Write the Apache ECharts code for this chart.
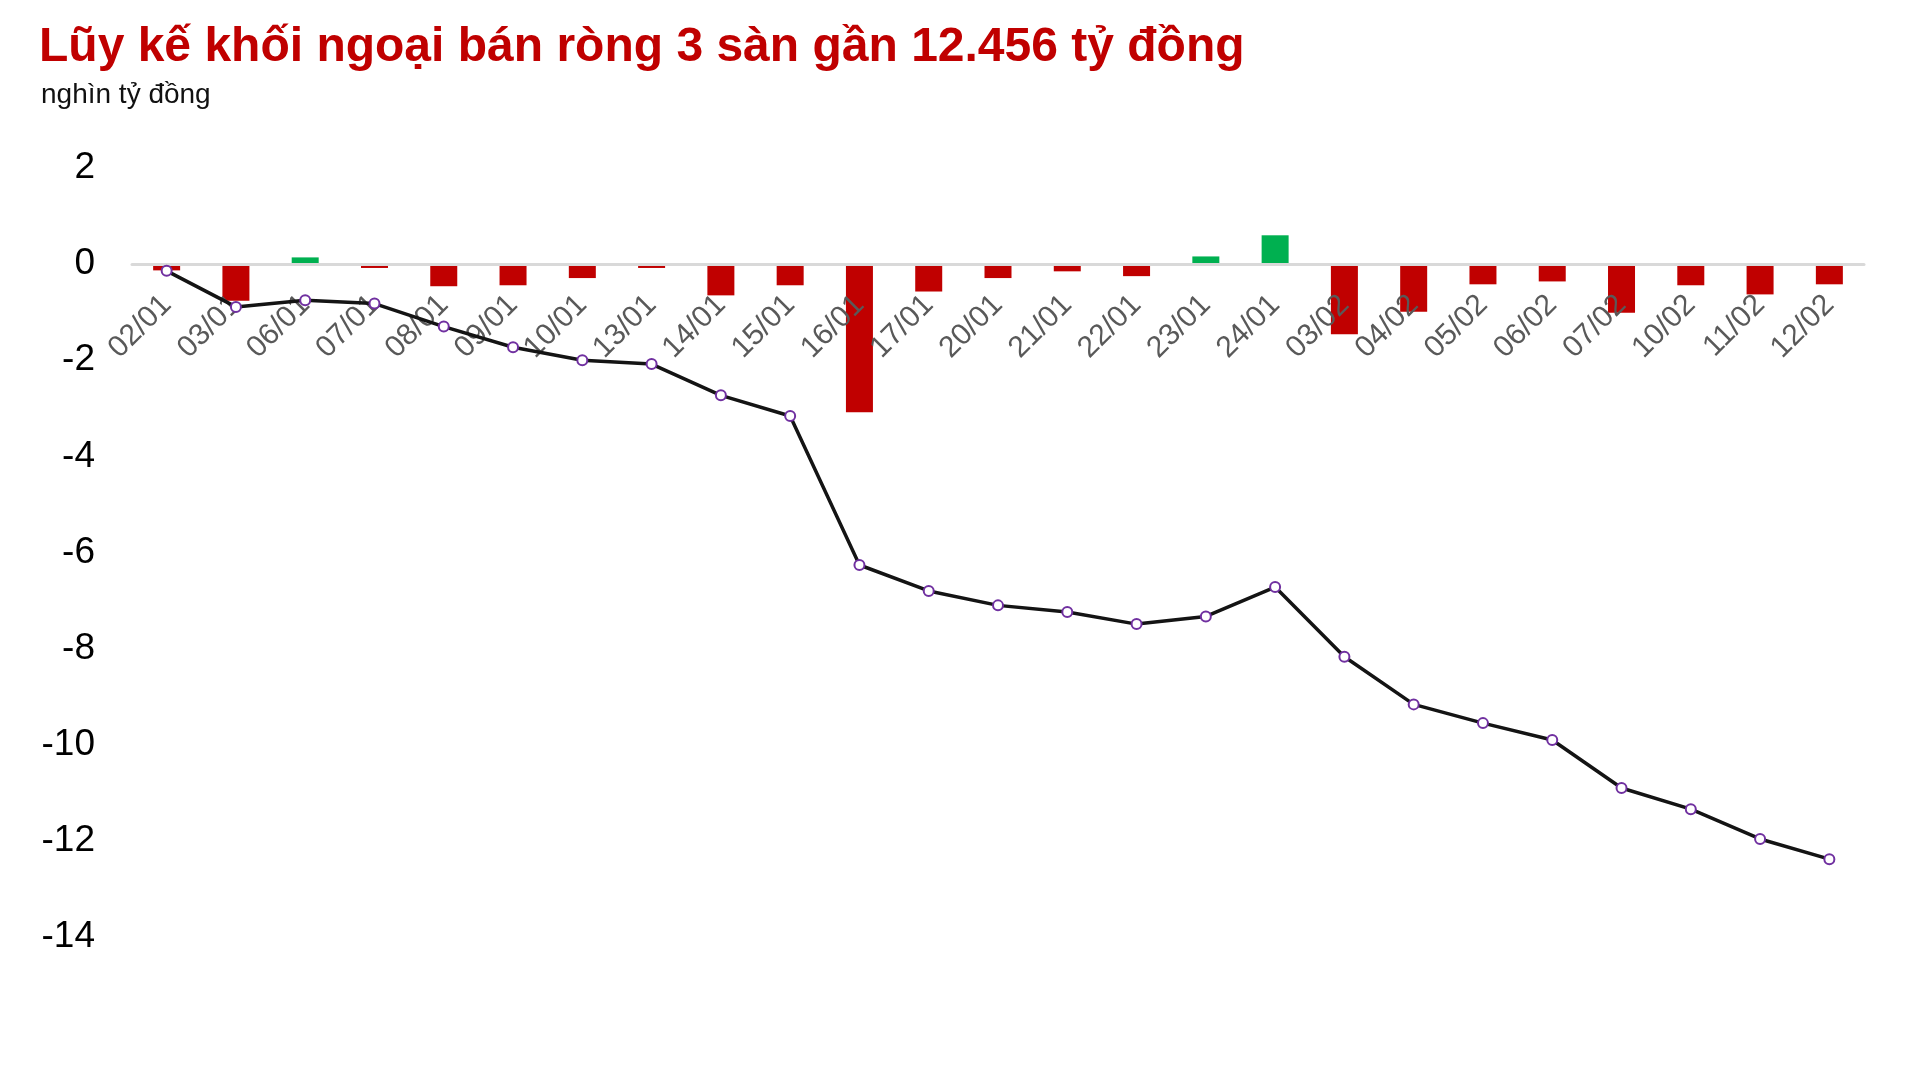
<!DOCTYPE html>
<html>
<head>
<meta charset="utf-8">
<script src="https://cdn.jsdelivr.net/npm/echarts@6/dist/echarts.min.js"></script>
<style>
html,body{margin:0;padding:0;background:#fff;}
#chart{width:1923px;height:1088px;}
</style>
</head>
<body>
<div id="chart"></div>
<script>
const categories = ['02/01','03/01','06/01','07/01','08/01','09/01','10/01','13/01','14/01','15/01','16/01','17/01','20/01','21/01','22/01','23/01','24/01','03/02','04/02','05/02','06/02','07/02','10/02','11/02','12/02'];
const dailyNet = [-0.13,-0.76,0.14,-0.08,-0.46,-0.44,-0.29,-0.08,-0.65,-0.44,-3.08,-0.57,-0.29,-0.15,-0.25,0.16,0.60,-1.46,-0.99,-0.42,-0.36,-1.01,-0.44,-0.63,-0.42];
const cumulative = [-0.14,-0.89,-0.75,-0.82,-1.30,-1.73,-2.00,-2.08,-2.73,-3.16,-6.26,-6.80,-7.10,-7.24,-7.49,-7.33,-6.72,-8.17,-9.16,-9.55,-9.90,-10.90,-11.34,-11.96,-12.38];
const yTicks = {min:-14, max:2, interval:2};
const titleText = 'Lũy kế khối ngoại bán ròng 3 sàn gần 12.456 tỷ đồng';
const unitText = 'nghìn tỷ đồng';

const FONT = "'Liberation Sans', Arial, Helvetica, sans-serif";
const GRID = {left:132, right:59, top:168, bottom:151};
const plotH = 1088 - GRID.top - GRID.bottom;
// distance from grid bottom up to the zero value, derived from the y range
const zeroOffset = -plotH * (0 - yTicks.min) / (yTicks.max - yTicks.min);

const chart = echarts.init(document.getElementById('chart'), null, {renderer:'canvas'});
chart.setOption({
  backgroundColor:'#fff',
  animation:false,
  title:[
    {text:titleText, left:34, top:19, textStyle:{color:'#C00000', fontSize:48, fontWeight:'bold', fontFamily:FONT}},
    {text:unitText, left:36, top:76, textStyle:{color:'#111', fontSize:28, fontWeight:'normal', fontFamily:FONT}}
  ],
  grid:{left:GRID.left, right:GRID.right, top:GRID.top, bottom:GRID.bottom, containLabel:false},
  xAxis:{
    type:'category', data:categories, position:'bottom', offset:zeroOffset, z:3,
    axisLine:{onZero:false, lineStyle:{color:'#d9d9d9', width:3}},
    axisTick:{show:false},
    axisLabel:{rotate:45, color:'#595959', fontSize:30, fontFamily:FONT, margin:36, interval:0}
  },
  yAxis:{
    type:'value', min:yTicks.min, max:yTicks.max, interval:yTicks.interval,
    axisLine:{show:false}, axisTick:{show:false}, splitLine:{show:false},
    axisLabel:{color:'#000', fontSize:37, fontFamily:FONT, margin:37, padding:[6,0,0,0]}
  },
  series:[
    {type:'bar', data:dailyNet, barWidth:27, z:2,
     itemStyle:{color:p => p.value >= 0 ? '#00B050' : '#C00000'}},
    {type:'line', data:cumulative, symbol:'emptyCircle', symbolSize:10, z:5,
     lineStyle:{color:'#141414', width:3.5},
     itemStyle:{color:'#7030A0', borderWidth:2.2}}
  ]
});
</script>
</body>
</html>
